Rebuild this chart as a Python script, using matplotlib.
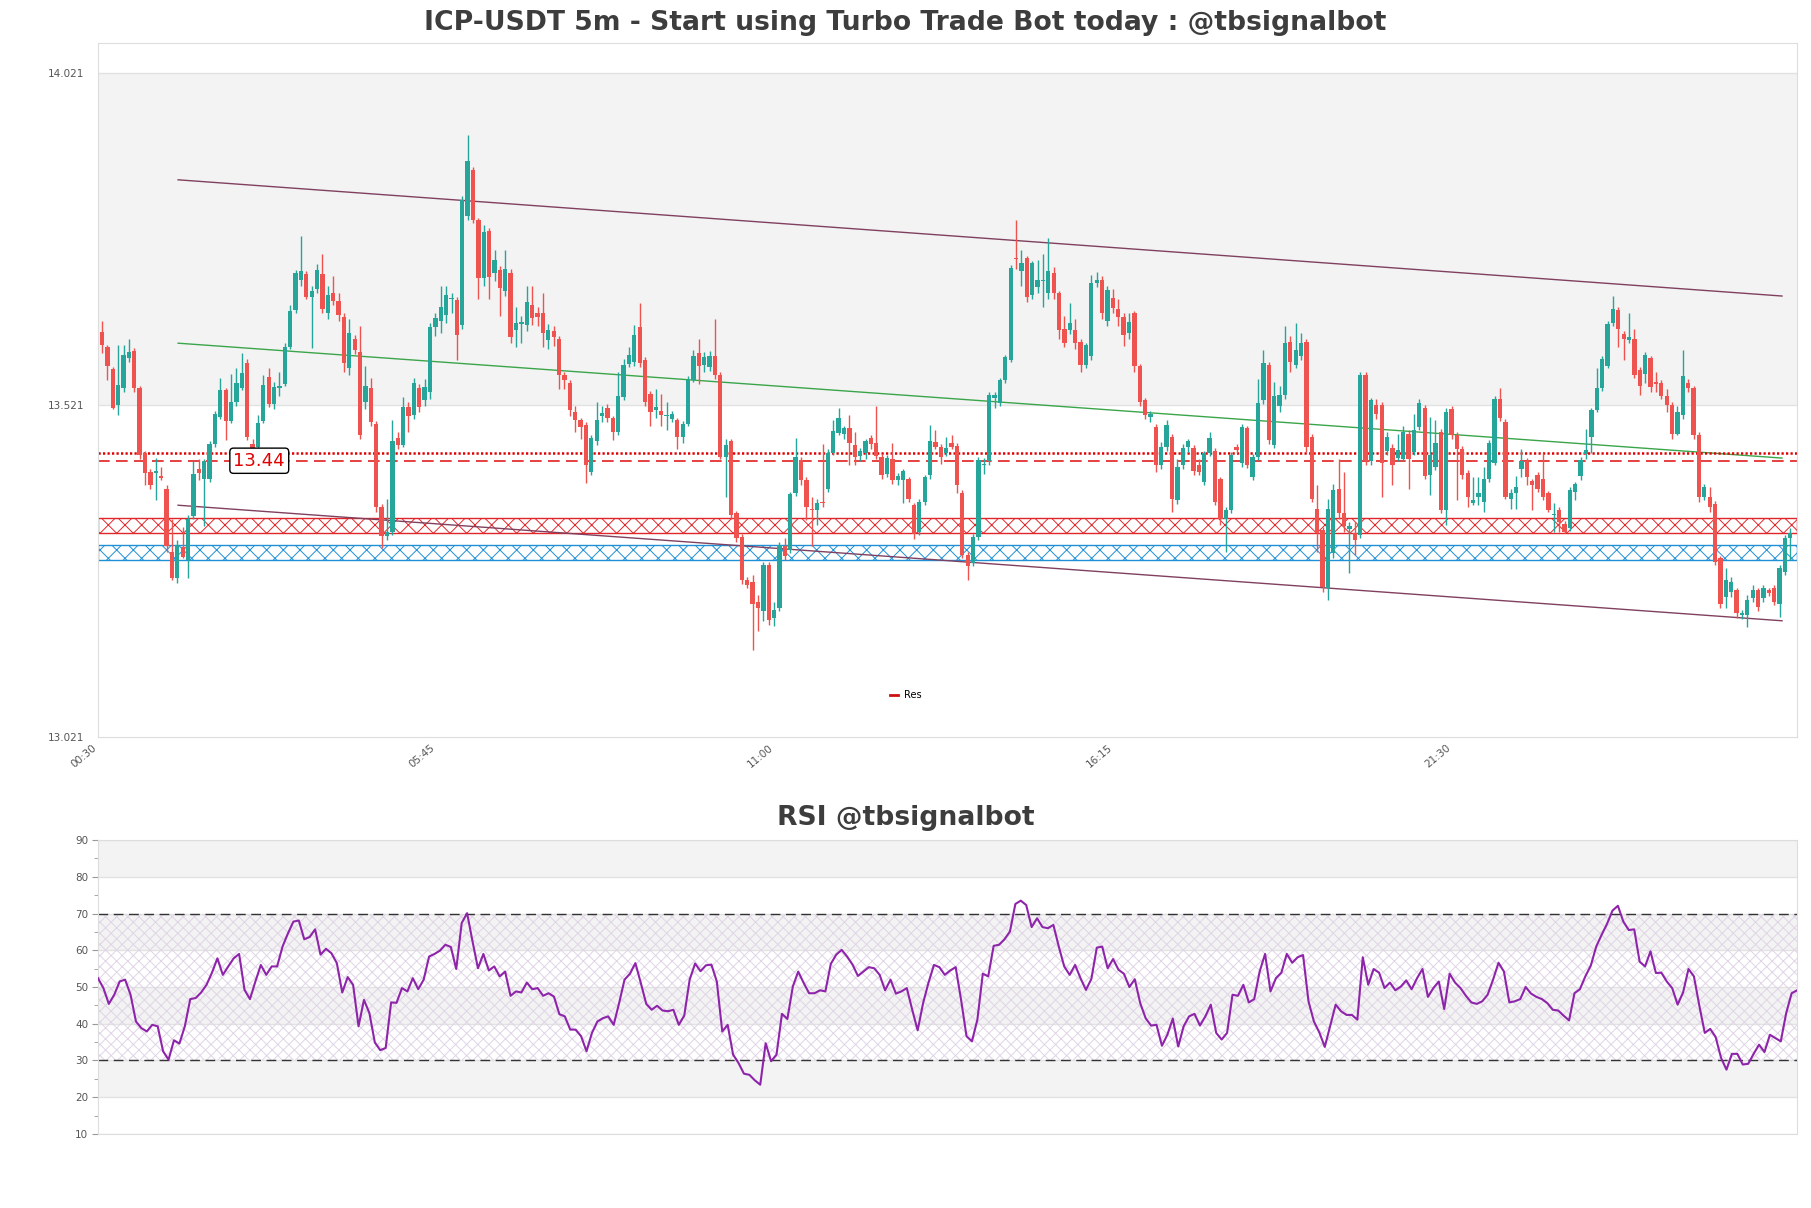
import numpy as np
import matplotlib.pyplot as plt
from matplotlib.lines import Line2D

plt.rcParams['hatch.linewidth'] = 0.7

# OHLC of the 5m candles
opens = [13.631, 13.609, 13.575, 13.521, 13.547, 13.591, 13.602, 13.547, 13.449, 13.420,
         13.418, 13.414, 13.394, 13.300, 13.260, 13.307, 13.287, 13.354, 13.425, 13.409,
         13.409, 13.462, 13.503, 13.543, 13.497, 13.525, 13.547, 13.584, 13.462, 13.458,
         13.497, 13.563, 13.522, 13.547, 13.553, 13.609, 13.664, 13.709, 13.718, 13.683,
         13.695, 13.718, 13.660, 13.690, 13.677, 13.654, 13.576, 13.620, 13.601, 13.526,
         13.546, 13.493, 13.368, 13.323, 13.329, 13.471, 13.461, 13.518, 13.506, 13.546,
         13.528, 13.541, 13.639, 13.647, 13.656, 13.680, 13.679, 13.641, 13.805, 13.875,
         13.799, 13.712, 13.783, 13.719, 13.724, 13.692, 13.719, 13.634, 13.643, 13.641,
         13.672, 13.660, 13.659, 13.619, 13.632, 13.621, 13.566, 13.554, 13.511, 13.498,
         13.491, 13.420, 13.466, 13.504, 13.516, 13.501, 13.481, 13.533, 13.583, 13.586,
         13.639, 13.589, 13.538, 13.513, 13.512, 13.505, 13.500, 13.498, 13.473, 13.493,
         13.558, 13.599, 13.581, 13.578, 13.594, 13.566, 13.443, 13.466, 13.358, 13.322,
         13.257, 13.255, 13.224, 13.210, 13.280, 13.200, 13.215, 13.309, 13.303, 13.388,
         13.438, 13.408, 13.365, 13.363, 13.374, 13.394, 13.449, 13.479, 13.478, 13.486,
         13.461, 13.444, 13.449, 13.471, 13.464, 13.443, 13.417, 13.439, 13.408, 13.408,
         13.409, 13.370, 13.330, 13.375, 13.415, 13.465, 13.458, 13.448, 13.463, 13.459,
         13.389, 13.295, 13.283, 13.322, 13.430, 13.436, 13.532, 13.524, 13.558, 13.589,
         13.743, 13.722, 13.742, 13.687, 13.699, 13.707, 13.689, 13.719, 13.689, 13.636,
         13.634, 13.634, 13.616, 13.581, 13.594, 13.704, 13.709, 13.647, 13.682, 13.666,
         13.654, 13.629, 13.659, 13.579, 13.528, 13.503, 13.488, 13.431, 13.458, 13.473,
         13.378, 13.431, 13.457, 13.456, 13.430, 13.405, 13.448, 13.451, 13.409, 13.349,
         13.363, 13.458, 13.433, 13.486, 13.413, 13.443, 13.528, 13.581, 13.461, 13.519,
         13.536, 13.616, 13.581, 13.594, 13.616, 13.473, 13.365, 13.333, 13.245, 13.298,
         13.395, 13.358, 13.334, 13.328, 13.325, 13.566, 13.436, 13.521, 13.521, 13.451,
         13.456, 13.441, 13.440, 13.478, 13.450, 13.488, 13.517, 13.415, 13.427, 13.480,
         13.363, 13.515, 13.476, 13.455, 13.419, 13.374, 13.383, 13.375, 13.410, 13.434,
         13.530, 13.496, 13.379, 13.389, 13.425, 13.436, 13.406, 13.415, 13.409, 13.388,
         13.355, 13.363, 13.342, 13.335, 13.390, 13.414, 13.447, 13.473, 13.513, 13.546,
         13.580, 13.644, 13.664, 13.628, 13.619, 13.621, 13.574, 13.568, 13.591, 13.556,
         13.554, 13.534, 13.521, 13.478, 13.506, 13.554, 13.546, 13.476, 13.383, 13.383,
         13.372, 13.290, 13.232, 13.240, 13.242, 13.205, 13.205, 13.231, 13.242, 13.230,
         13.242, 13.245, 13.222, 13.270, 13.320]
highs = [13.648, 13.612, 13.578, 13.611, 13.611, 13.620, 13.606, 13.550, 13.452, 13.425,
         13.441, 13.428, 13.400, 13.350, 13.318, 13.337, 13.355, 13.436, 13.440, 13.440,
         13.466, 13.512, 13.562, 13.547, 13.568, 13.576, 13.599, 13.590, 13.470, 13.506,
         13.566, 13.576, 13.556, 13.571, 13.615, 13.671, 13.724, 13.775, 13.722, 13.700,
         13.733, 13.748, 13.700, 13.715, 13.690, 13.660, 13.651, 13.626, 13.640, 13.579,
         13.561, 13.497, 13.372, 13.380, 13.498, 13.480, 13.533, 13.525, 13.561, 13.552,
         13.560, 13.645, 13.660, 13.700, 13.700, 13.690, 13.683, 13.835, 13.927, 13.880,
         13.803, 13.792, 13.787, 13.755, 13.730, 13.755, 13.725, 13.668, 13.655, 13.700,
         13.700, 13.668, 13.690, 13.643, 13.640, 13.625, 13.570, 13.558, 13.520, 13.502,
         13.495, 13.476, 13.525, 13.520, 13.522, 13.505, 13.570, 13.590, 13.609, 13.642,
         13.674, 13.593, 13.542, 13.545, 13.538, 13.526, 13.512, 13.502, 13.497, 13.565,
         13.604, 13.621, 13.600, 13.602, 13.650, 13.570, 13.470, 13.470, 13.362, 13.326,
         13.262, 13.265, 13.235, 13.285, 13.284, 13.225, 13.315, 13.320, 13.390, 13.471,
         13.442, 13.412, 13.383, 13.380, 13.462, 13.455, 13.498, 13.517, 13.490, 13.506,
         13.481, 13.456, 13.470, 13.475, 13.519, 13.447, 13.446, 13.463, 13.418, 13.425,
         13.413, 13.374, 13.380, 13.416, 13.491, 13.484, 13.462, 13.473, 13.476, 13.463,
         13.393, 13.299, 13.326, 13.442, 13.441, 13.540, 13.541, 13.562, 13.596, 13.732,
         13.800, 13.754, 13.745, 13.738, 13.740, 13.749, 13.773, 13.729, 13.693, 13.655,
         13.674, 13.650, 13.620, 13.615, 13.717, 13.721, 13.715, 13.700, 13.695, 13.680,
         13.660, 13.660, 13.662, 13.583, 13.532, 13.512, 13.492, 13.465, 13.498, 13.478,
         13.440, 13.462, 13.470, 13.460, 13.440, 13.452, 13.480, 13.456, 13.413, 13.368,
         13.450, 13.462, 13.493, 13.490, 13.447, 13.560, 13.603, 13.585, 13.555, 13.550,
         13.640, 13.625, 13.645, 13.630, 13.621, 13.477, 13.400, 13.337, 13.380, 13.402,
         13.440, 13.420, 13.345, 13.345, 13.570, 13.571, 13.532, 13.530, 13.525, 13.480,
         13.462, 13.478, 13.490, 13.484, 13.508, 13.530, 13.521, 13.503, 13.498, 13.485,
         13.516, 13.519, 13.480, 13.459, 13.423, 13.413, 13.413, 13.428, 13.468, 13.535,
         13.547, 13.500, 13.394, 13.414, 13.455, 13.441, 13.410, 13.420, 13.448, 13.392,
         13.373, 13.368, 13.346, 13.398, 13.405, 13.442, 13.485, 13.517, 13.576, 13.594,
         13.647, 13.685, 13.668, 13.632, 13.659, 13.635, 13.578, 13.600, 13.595, 13.570,
         13.558, 13.545, 13.525, 13.520, 13.603, 13.560, 13.550, 13.480, 13.402, 13.398,
         13.376, 13.294, 13.275, 13.262, 13.246, 13.212, 13.235, 13.250, 13.246, 13.250,
         13.246, 13.250, 13.280, 13.325, 13.335]
lows = [13.599, 13.559, 13.515, 13.506, 13.540, 13.585, 13.540, 13.440, 13.400, 13.395,
        13.378, 13.408, 13.300, 13.258, 13.253, 13.290, 13.260, 13.350, 13.408, 13.338,
        13.405, 13.458, 13.500, 13.468, 13.494, 13.520, 13.544, 13.468, 13.448, 13.452,
        13.494, 13.518, 13.515, 13.535, 13.550, 13.605, 13.660, 13.700, 13.680, 13.606,
        13.690, 13.660, 13.650, 13.672, 13.647, 13.571, 13.566, 13.598, 13.470, 13.515,
        13.490, 13.360, 13.305, 13.318, 13.325, 13.455, 13.458, 13.480, 13.500, 13.510,
        13.520, 13.530, 13.625, 13.630, 13.645, 13.660, 13.588, 13.635, 13.800, 13.795,
        13.680, 13.700, 13.680, 13.708, 13.655, 13.685, 13.615, 13.608, 13.614, 13.632,
        13.641, 13.640, 13.608, 13.605, 13.610, 13.545, 13.545, 13.505, 13.480, 13.470,
        13.403, 13.415, 13.460, 13.495, 13.495, 13.468, 13.475, 13.528, 13.578, 13.580,
        13.578, 13.520, 13.490, 13.501, 13.490, 13.483, 13.495, 13.455, 13.463, 13.490,
        13.555, 13.553, 13.570, 13.572, 13.560, 13.440, 13.383, 13.350, 13.315, 13.252,
        13.245, 13.152, 13.180, 13.195, 13.190, 13.188, 13.210, 13.288, 13.298, 13.384,
        13.400, 13.348, 13.308, 13.340, 13.368, 13.390, 13.446, 13.476, 13.470, 13.431,
        13.431, 13.437, 13.440, 13.455, 13.440, 13.410, 13.412, 13.402, 13.400, 13.373,
        13.375, 13.319, 13.325, 13.370, 13.410, 13.455, 13.432, 13.444, 13.454, 13.389,
        13.290, 13.258, 13.278, 13.318, 13.417, 13.431, 13.516, 13.520, 13.554, 13.585,
        13.725, 13.700, 13.676, 13.680, 13.690, 13.669, 13.680, 13.680, 13.620, 13.608,
        13.628, 13.605, 13.571, 13.576, 13.588, 13.698, 13.650, 13.640, 13.660, 13.640,
        13.610, 13.620, 13.570, 13.520, 13.500, 13.495, 13.420, 13.425, 13.452, 13.360,
        13.372, 13.425, 13.450, 13.415, 13.415, 13.400, 13.444, 13.370, 13.340, 13.300,
        13.358, 13.448, 13.428, 13.426, 13.408, 13.438, 13.522, 13.462, 13.456, 13.510,
        13.530, 13.570, 13.576, 13.588, 13.450, 13.375, 13.300, 13.240, 13.227, 13.290,
        13.350, 13.330, 13.268, 13.295, 13.320, 13.430, 13.430, 13.500, 13.383, 13.445,
        13.400, 13.436, 13.436, 13.394, 13.445, 13.483, 13.410, 13.385, 13.423, 13.358,
        13.340, 13.470, 13.378, 13.410, 13.368, 13.370, 13.370, 13.360, 13.405, 13.430,
        13.497, 13.380, 13.365, 13.365, 13.413, 13.400, 13.363, 13.390, 13.378, 13.360,
        13.330, 13.330, 13.328, 13.331, 13.378, 13.408, 13.440, 13.448, 13.510, 13.542,
        13.576, 13.640, 13.609, 13.589, 13.615, 13.562, 13.536, 13.554, 13.540, 13.540,
        13.530, 13.510, 13.470, 13.475, 13.500, 13.540, 13.470, 13.375, 13.378, 13.360,
        13.280, 13.215, 13.215, 13.232, 13.200, 13.198, 13.187, 13.225, 13.210, 13.225,
        13.233, 13.220, 13.202, 13.265, 13.287]
closes = [13.611, 13.579, 13.517, 13.551, 13.596, 13.600, 13.547, 13.446, 13.418, 13.400,
          13.421, 13.411, 13.308, 13.260, 13.310, 13.292, 13.350, 13.417, 13.419, 13.437,
          13.462, 13.508, 13.544, 13.497, 13.525, 13.554, 13.569, 13.472, 13.455, 13.494,
          13.551, 13.522, 13.548, 13.549, 13.609, 13.663, 13.719, 13.722, 13.683, 13.693,
          13.724, 13.666, 13.687, 13.677, 13.657, 13.584, 13.629, 13.604, 13.476, 13.549,
          13.496, 13.368, 13.323, 13.330, 13.466, 13.461, 13.518, 13.505, 13.554, 13.518,
          13.548, 13.639, 13.652, 13.669, 13.687, 13.681, 13.627, 13.829, 13.888, 13.800,
          13.712, 13.781, 13.714, 13.739, 13.697, 13.725, 13.624, 13.644, 13.646, 13.676,
          13.652, 13.654, 13.629, 13.634, 13.624, 13.566, 13.559, 13.513, 13.498, 13.488,
          13.431, 13.471, 13.498, 13.509, 13.501, 13.481, 13.534, 13.581, 13.596, 13.626,
          13.584, 13.526, 13.511, 13.518, 13.506, 13.506, 13.507, 13.473, 13.493, 13.558,
          13.594, 13.579, 13.593, 13.595, 13.566, 13.443, 13.461, 13.355, 13.320, 13.257,
          13.250, 13.222, 13.215, 13.280, 13.197, 13.212, 13.310, 13.293, 13.387, 13.442,
          13.408, 13.367, 13.363, 13.374, 13.373, 13.449, 13.482, 13.501, 13.486, 13.464,
          13.442, 13.451, 13.466, 13.462, 13.444, 13.416, 13.441, 13.408, 13.414, 13.421,
          13.379, 13.327, 13.375, 13.412, 13.466, 13.458, 13.442, 13.456, 13.458, 13.400,
          13.295, 13.278, 13.322, 13.438, 13.432, 13.536, 13.536, 13.559, 13.593, 13.727,
          13.741, 13.734, 13.684, 13.734, 13.709, 13.708, 13.722, 13.689, 13.634, 13.614,
          13.644, 13.614, 13.581, 13.611, 13.704, 13.709, 13.659, 13.694, 13.667, 13.654,
          13.626, 13.646, 13.579, 13.526, 13.506, 13.508, 13.431, 13.458, 13.491, 13.380,
          13.428, 13.456, 13.466, 13.421, 13.420, 13.448, 13.471, 13.375, 13.349, 13.363,
          13.446, 13.453, 13.488, 13.431, 13.443, 13.524, 13.584, 13.468, 13.534, 13.536,
          13.614, 13.586, 13.604, 13.614, 13.458, 13.380, 13.328, 13.247, 13.365, 13.393,
          13.358, 13.338, 13.339, 13.318, 13.566, 13.436, 13.528, 13.508, 13.433, 13.473,
          13.431, 13.453, 13.481, 13.440, 13.484, 13.524, 13.414, 13.445, 13.464, 13.363,
          13.511, 13.476, 13.455, 13.415, 13.383, 13.378, 13.388, 13.409, 13.464, 13.530,
          13.501, 13.383, 13.389, 13.398, 13.437, 13.413, 13.400, 13.394, 13.382, 13.363,
          13.357, 13.345, 13.330, 13.393, 13.402, 13.438, 13.453, 13.513, 13.546, 13.590,
          13.643, 13.666, 13.636, 13.621, 13.624, 13.566, 13.549, 13.596, 13.548, 13.552,
          13.534, 13.521, 13.478, 13.511, 13.564, 13.546, 13.476, 13.383, 13.397, 13.368,
          13.285, 13.222, 13.257, 13.255, 13.207, 13.207, 13.228, 13.243, 13.217, 13.245,
          13.238, 13.225, 13.275, 13.320, 13.328]

rsi = [52.4, 49.7, 45.4, 47.9, 51.5, 52.0, 47.9, 40.6, 38.8, 37.9, 39.7, 39.3, 32.5, 30.2, 35.5,
       34.6, 39.3, 46.7, 47.0, 48.5, 50.6, 53.9, 57.8, 53.3, 55.6, 57.8, 59.0, 49.2, 46.7, 51.5,
       56.0, 53.3, 55.6, 55.6, 61.0, 64.6, 67.8, 68.1, 63.0, 63.6, 65.7, 58.8, 60.4, 59.2, 56.5,
       48.5, 52.7, 50.6, 39.3, 46.5, 42.9, 34.9, 32.8, 33.4, 45.8, 45.7, 49.7, 48.8, 52.4, 49.4,
       52.0, 58.3, 59.0, 59.9, 61.5, 60.9, 54.9, 67.4, 70.1, 62.4, 55.1, 59.0, 54.5, 55.6, 52.9,
       54.2, 47.6, 48.8, 48.5, 51.2, 49.4, 49.7, 47.6, 48.3, 47.4, 42.6, 42.0, 38.4, 38.4, 36.6,
       32.5, 37.5, 40.6, 41.5,
       42.0, 39.7, 45.6, 52.0, 53.6, 56.5, 51.1, 45.4, 43.8, 44.9, 43.6, 43.4, 43.8, 39.7, 42.2,
       52.0, 56.4, 54.3, 55.9, 56.1, 51.5, 37.9, 39.7, 31.6, 29.3, 26.4, 26.1, 24.6, 23.4, 34.7,
       29.8, 31.6, 42.7, 41.3, 50.1, 54.2, 51.1, 48.3, 48.3, 49.1, 48.8, 56.3, 58.8, 60.1, 58.3,
       56.1, 53.0, 54.2, 55.4, 55.1, 53.3, 49.1, 52.0, 48.2, 48.8, 49.7, 43.8, 38.2, 45.6, 51.2,
       56.0, 55.4, 53.3, 54.5, 55.4, 46.5, 36.6, 35.2, 41.1, 53.6, 52.9, 61.2, 61.5, 63.0, 65.1,
       72.6, 73.5, 72.3, 66.3, 68.7, 66.3, 66.0, 66.9, 61.0, 55.6, 53.3, 56.0, 52.4, 49.2, 52.2,
       60.7, 61.0, 55.1, 57.6, 54.7, 53.6, 50.0, 52.1, 45.6, 41.5, 39.5, 39.7, 34.0, 37.0, 41.4,
       33.8, 39.3, 42.0, 42.7, 39.5,
       42.0, 45.2, 37.5, 35.7, 37.5, 47.9, 47.6, 50.6, 45.8, 46.7, 54.2, 59.0, 48.8, 52.4, 53.9,
       59.0, 56.6, 58.1, 58.7, 46.1, 40.6, 37.6, 33.7, 39.5, 45.2, 43.4, 42.4, 42.4, 41.1, 58.1,
       50.6, 54.9, 53.9, 49.7, 51.2, 49.1, 50.1, 51.8, 49.4, 52.4, 54.9, 47.3, 49.7, 51.5, 44.0,
       53.6, 51.2, 49.7, 47.6, 45.8, 45.4, 46.1, 47.9, 52.0, 56.6, 54.2, 45.8, 46.1, 46.7, 50.0,
       48.2, 47.3, 46.7, 45.6, 43.8, 43.6, 42.2, 40.9, 48.3, 49.4, 52.9, 55.8, 61.0, 64.2, 67.2,
       70.8, 72.1, 67.8, 65.5, 65.7, 56.9, 55.6, 59.7, 53.8, 53.9, 51.5, 49.7, 45.2, 48.5, 54.9,
       52.9, 44.9, 37.5, 38.6, 36.4, 30.7, 27.5, 31.8, 31.8, 28.9, 29.1, 31.8, 34.3, 32.3, 37.0,
       36.1, 35.2, 42.9, 48.3, 49.1]

tick_pos = [0, 63, 126, 189, 252]
tick_labels = ['00:30', '05:45', '11:00', '16:15', '21:30']

res_level = 13.449
last_price = 13.437
res_zone = (13.328, 13.351)
sup_zone = (13.288, 13.310)
# trend channel: (x0, y0, x1, y1)
upper_ch = (14.9, 13.860, 313.2, 13.685)
mid_ch = (14.9, 13.614, 313.2, 13.441)
lower_ch = (14.9, 13.370, 313.2, 13.196)

up_col = '#26a69a'
down_col = '#ef5350'
band_col = '#f3f3f3'
spine_col = '#dddddd'
text_col = '#555555'

o = np.array(opens)
h = np.array(highs)
l = np.array(lows)
c = np.array(closes)
x = np.arange(len(o)) + 0.75
cols = np.where(c >= o, up_col, down_col)

fig = plt.figure(figsize=(18.11, 12.08), dpi=100)
ax = fig.add_axes([0.0541, 0.3899, 0.9382, 0.5745])
ax2 = fig.add_axes([0.0541, 0.0613, 0.9382, 0.2433])

# ---- price panel ----
ax.set_xlim(0, 316)
ax.set_ylim(13.021, 14.066)
ax.axhspan(13.521, 14.021, color=band_col, zorder=0, lw=0)
for yv in [13.521, 14.021]:
    ax.axhline(yv, color='#e2e2e2', lw=1, zorder=0.5)

ax.axhspan(res_zone[0], res_zone[1], facecolor='none', edgecolor='#e0262a',
           hatch='xx', lw=1, zorder=1)
ax.axhspan(sup_zone[0], sup_zone[1], facecolor='none', edgecolor='#1f8fd6',
           hatch='xx', lw=1, zorder=1)

for ch, colr in [(upper_ch, '#80405f'), (mid_ch, '#3aa54a'), (lower_ch, '#80405f')]:
    ax.plot([ch[0], ch[2]], [ch[1], ch[3]], color=colr, lw=1, zorder=2)

ax.axhline(res_level, color='#e00000', lw=1.8, dashes=(0.9, 0.9), zorder=2)
ax.axhline(last_price, color='#e02020', lw=1.2, dashes=(7, 3.8), zorder=2)

ax.vlines(x, l, h, colors=cols, lw=1, zorder=3)
body_lo = np.minimum(o, c)
body_h = np.maximum(np.abs(c - o), 0.0015)
ax.bar(x, body_h, bottom=body_lo, width=0.8, color=cols, lw=0, zorder=4)

ax.text(30, last_price, '13.44', color='#e00000', fontsize=13, ha='center', va='center',
        zorder=6, bbox=dict(boxstyle='round,pad=0.2', fc='white', ec='black', lw=1))

ax.set_yticks([13.021, 13.521, 14.021])
ax.set_yticklabels(['13.021', '13.521', '14.021'])
ax.set_xticks(tick_pos)
ax.set_xticklabels(tick_labels, rotation=40, ha='right')
ax.tick_params(axis='y', length=0, pad=10, labelsize=7.5, labelcolor=text_col)
ax.tick_params(axis='x', length=0, pad=4, labelsize=7.5, labelcolor=text_col)
for sp in ax.spines.values():
    sp.set_color(spine_col)

fig.legend([Line2D([0], [0], color='#cc1111', lw=2)], ['Res'], loc='center',
           bbox_to_anchor=(906 / 1811, 1 - 695 / 1208), frameon=False, fontsize=7,
           handlelength=0.8, handletextpad=0.6)

fig.text(0.5, 0.981, 'ICP-USDT 5m - Start using Turbo Trade Bot today : @tbsignalbot',
         ha='center', va='center', fontsize=19.2, fontweight='bold', color='#3d3d3d')

# ---- RSI panel ----
xr = np.arange(len(rsi))
ax2.set_xlim(0, len(rsi) - 1)
ax2.set_ylim(10, 90)
for lo in [20, 40, 60, 80]:
    ax2.axhspan(lo, lo + 10, color=band_col, lw=0, zorder=0)
for yv in range(10, 91, 10):
    ax2.axhline(yv, color='#e2e2e2', lw=1, zorder=0.5)
ax2.fill_between([0, len(rsi) - 1], 30, 70, facecolor='none', edgecolor='#e0d4e6',
                 hatch='xxx', lw=0, zorder=1)
ax2.axhline(70, color='#333333', lw=1, dashes=(7, 4), zorder=2)
ax2.axhline(30, color='#333333', lw=1, dashes=(7, 4), zorder=2)
ax2.plot(xr, rsi, color='#8e24aa', lw=1.5, zorder=3)

ax2.set_yticks(range(10, 91, 10))
ax2.set_yticks(range(15, 90, 10), minor=True)
ax2.set_xticks([])
ax2.tick_params(axis='y', which='major', length=4, color='#999999', pad=3,
                labelsize=7.5, labelcolor=text_col)
ax2.tick_params(axis='y', which='minor', length=3, color='#999999')
for sp in ax2.spines.values():
    sp.set_color(spine_col)

fig.text(0.5, 1 - 818 / 1208, 'RSI @tbsignalbot', ha='center', va='center',
         fontsize=19.2, fontweight='bold', color='#3d3d3d')

fig.savefig('out.png', dpi=100)
